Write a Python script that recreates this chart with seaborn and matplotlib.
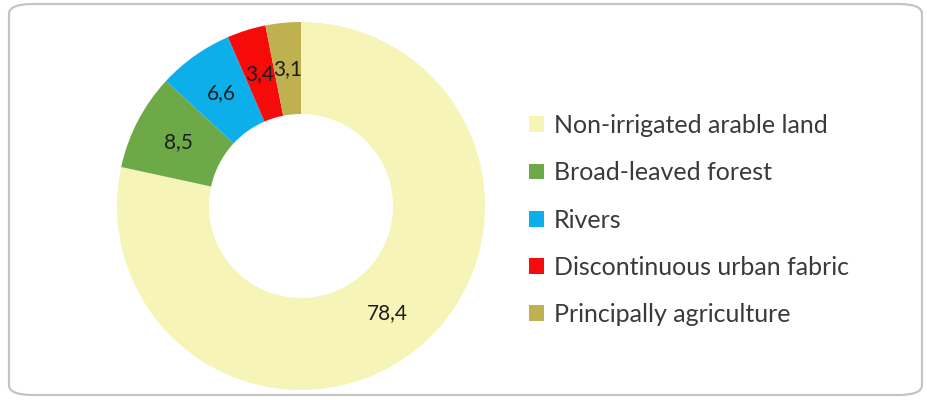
import matplotlib
matplotlib.use("Agg")
import matplotlib.pyplot as plt
from matplotlib.patches import Patch, FancyBboxPatch
import seaborn as sns

# Land cover shares (%)
categories = [
    "Non-irrigated arable land",
    "Broad-leaved forest",
    "Rivers",
    "Discontinuous urban fabric",
    "Principally agriculture",
]
shares = [78.4, 8.5, 6.6, 3.4, 3.1]
colors = ["#F6F4B6", "#6DA947", "#0DAFEB", "#F70A0A", "#BFB050"]

sns.set_theme(style="white")
plt.rcParams["font.family"] = ["Lato", "DejaVu Sans"]

W, H = 928, 400
fig = plt.figure(figsize=(W / 100, H / 100), dpi=100)

# rounded frame around the chart area
frame = FancyBboxPatch(
    (9 / W, 5 / H), (922 - 9) / W, (396 - 5) / H,
    boxstyle="round,pad=0,rounding_size=0.025",
    transform=fig.transFigure, facecolor="none",
    edgecolor="#C4C4C4", linewidth=1.6, zorder=-1,
)
fig.patches.append(frame)

# donut
cx, cy, R = 301, 206, 184
ax = fig.add_axes([(cx - R) / W, (H - cy - R) / H, 2 * R / W, 2 * R / H])
ax.patch.set_visible(False)
value_labels = iter([f"{v:.1f}".replace(".", ",") for v in shares])
wedges, _, autotexts = ax.pie(
    shares,
    colors=colors,
    startangle=90,
    counterclock=False,
    wedgeprops=dict(width=0.5, linewidth=0),
    autopct=lambda p: next(value_labels),
    pctdistance=0.75,
    textprops=dict(fontsize=15, color="#1E1E1E"),
)
ax.set_xlim(-1, 1)
ax.set_ylim(-1, 1)
ax.set_aspect("equal")
ax.axis("off")

# legend
handles = [Patch(facecolor=c, edgecolor="none") for c in colors]
fig.legend(
    handles, categories,
    loc="center left", bbox_to_anchor=(529 / W, 1 - 220 / H),
    frameon=False, fontsize=18, labelcolor="#3A3A3A",
    handlelength=0.6, handleheight=0.6, handletextpad=0.4,
    labelspacing=0.97, borderaxespad=0, borderpad=0,
)

fig.savefig("out.png", dpi=100)
